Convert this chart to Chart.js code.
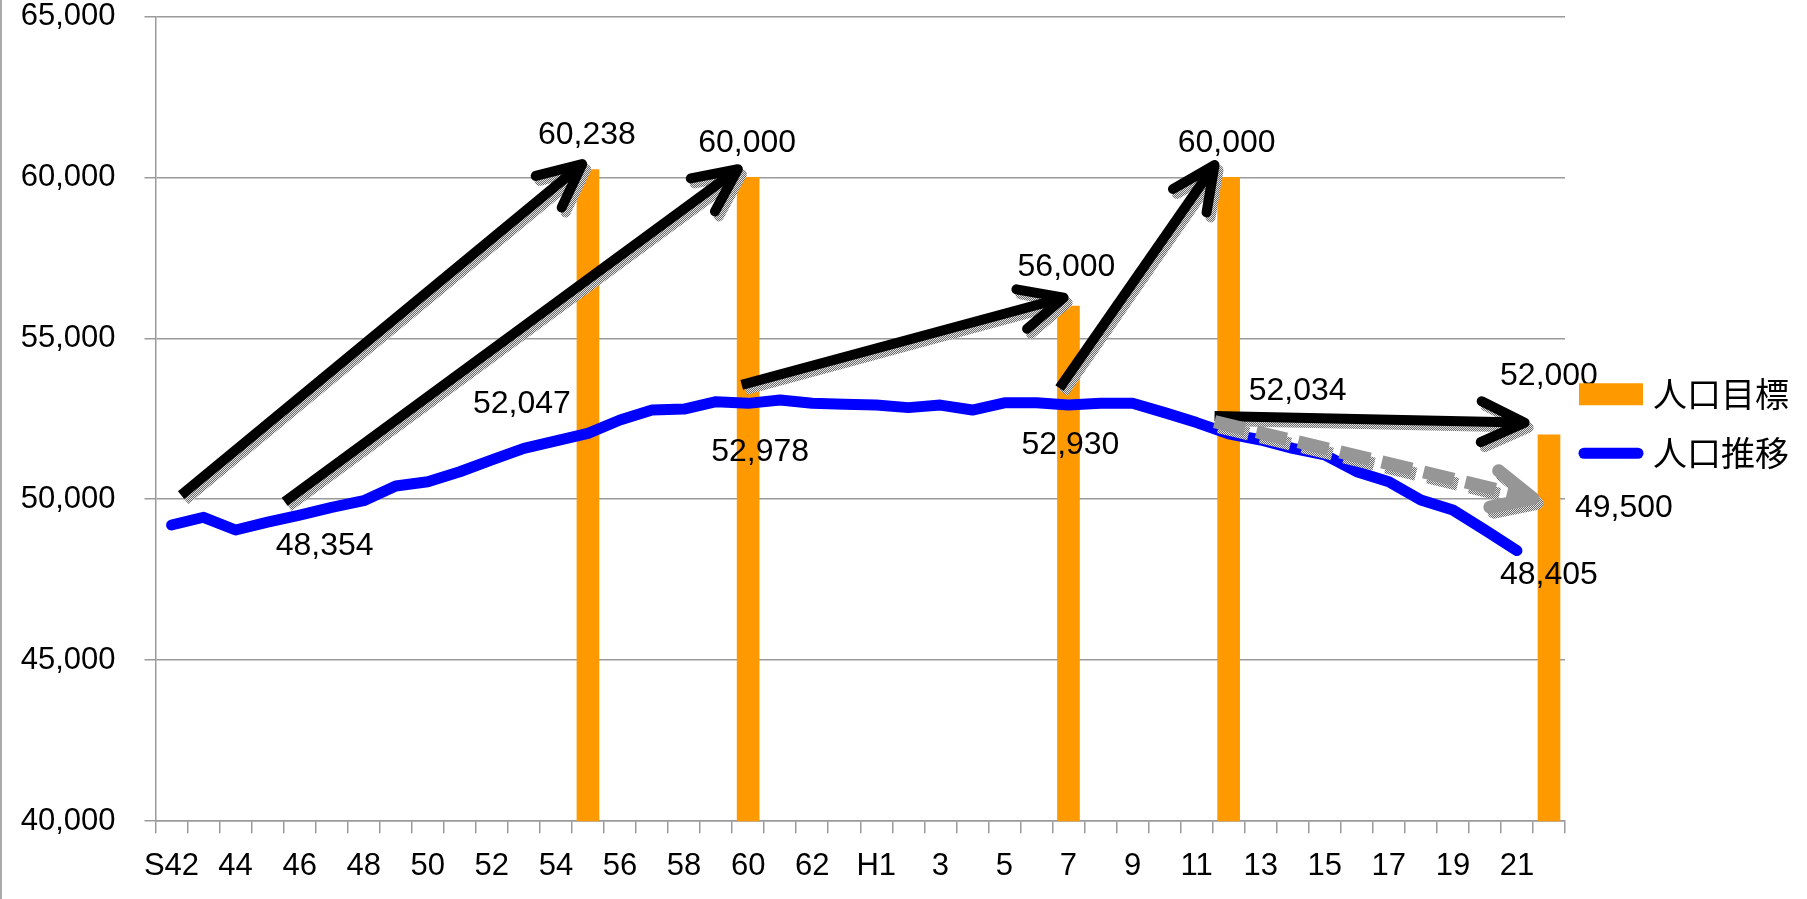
<!DOCTYPE html>
<html lang="ja">
<head>
<meta charset="UTF-8">
<title>人口推移と人口目標</title>
<script src="https://cdn.jsdelivr.net/npm/chart.js"></script>
<style>
  html, body { margin: 0; padding: 0; background: #fff; }
  #wrap { width: 1807px; height: 899px; }
</style>
</head>
<body>
<div id="wrap"><canvas id="popChart" width="1807" height="899"></canvas></div>
<script>
// 年度 (昭和42年〜昭和63年, 平成元年〜平成22年)
const years = [
  'S42','43','44','45','46','47','48','49','50','51','52',
  '53','54','55','56','57','58','59','60','61','62','63',
  'H1','2','3','4','5','6','7','8','9','10','11',
  '12','13','14','15','16','17','18','19','20','21','22'
];

// 人口推移 (H22 は未集計)
const populationActual = [
  49200, 49440, 49045, 49290, 49510, 49750, 49955, 50410, 50545, 50855, 51220,
  51580, 51810, 52047, 52460, 52770, 52800, 53030, 52978, 53080, 52980, 52950,
  52925, 52845, 52925, 52770, 52995, 52995, 52930, 52980, 52980, 52690, 52380,
  52034, 51840, 51580, 51375, 50855, 50545, 49975, 49665, 49045, 48405, null
];

// 人口目標 (各総合計画の目標年次)
const populationTarget = [
  null, null, null, null, null, null, null, null, null, null, null,
  null, null, 60238, null, null, null, null, 60000, null, null, null,
  null, null, null, null, null, null, 56000, null, null, null, null,
  60000, null, null, null, null, null, null, null, null, null, 52000
];

const yTicks = [40000, 45000, 50000, 55000, 60000, 65000];

// 矢印の始点・終点 [年度index, 人口]
const arrowTail = [[0.3, 50130], [3.53, 49920], [17.8, 53550], [27.72, 53450], [32.56, 52585], [32.56, 52410]];
const arrowHead = [[12.82, 60410], [17.68, 60250], [27.85, 56260], [32.56, 60380], [42.24, 52380], [42.5, 50030]];
// 推計値の注記
const noteText = ['48,354', '49,500'];
const noteAt = [[3.53, 49920], [42.5, 50030]];

// 数値ラベルを付ける年度
const targetLabelAt = [13, 18, 28, 33, 43];
const actualLabelAt = [13, 18, 28, 33, 42];

// ラベル位置のずらし量 (px)
const targetLabelShift = [[-1, -34], [-1, -34], [-2, -39], [-2, -34], [0, -59]];
const actualLabelShift = [[-66, -29], [12, 49], [2, 40], [69, -43], [32, 25]];
const noteShift = [[40, 44], [91, 10]];

const fmt = v => v.toLocaleString('en-US');
const numFont = '32px "Liberation Sans", Arial, sans-serif';
const tickFont = { family: '"Liberation Sans", Arial, sans-serif', size: 31, lineHeight: 1.0 };
const legendFont = '34px "Noto Sans CJK JP", sans-serif';

function stipplePattern(ctx) {
  const pc = document.createElement('canvas');
  pc.width = pc.height = 2;
  const p = pc.getContext('2d');
  p.fillStyle = '#e2e2e2';
  p.fillRect(0, 0, 2, 2);
  p.fillStyle = '#6a6a6a';
  p.fillRect(0, 0, 1, 1);
  p.fillRect(1, 1, 1, 1);
  return ctx.createPattern(pc, 'repeat');
}

function arrowPath(ctx, x0, y0, x1, y1, dash, color, width, head) {
  const ang = Math.atan2(y1 - y0, x1 - x0);
  const spread = 0.44;
  ctx.strokeStyle = color;
  ctx.lineWidth = width;
  ctx.setLineDash(dash);
  ctx.lineCap = 'butt';
  ctx.beginPath();
  ctx.moveTo(x0, y0);
  ctx.lineTo(x1 - Math.cos(ang) * 4, y1 - Math.sin(ang) * 4);
  ctx.stroke();
  ctx.setLineDash([]);
  ctx.lineCap = 'round';
  ctx.lineJoin = 'round';
  ctx.beginPath();
  ctx.moveTo(x1 + head * Math.cos(ang + Math.PI - spread), y1 + head * Math.sin(ang + Math.PI - spread));
  ctx.lineTo(x1, y1);
  ctx.lineTo(x1 + head * Math.cos(ang + Math.PI + spread), y1 + head * Math.sin(ang + Math.PI + spread));
  ctx.stroke();
}

const frame = {
  id: 'frame',
  beforeDraw(chart) {
    const ctx = chart.ctx;
    ctx.save();
    ctx.fillStyle = '#fff';
    ctx.fillRect(0, 0, chart.width, chart.height);
    ctx.fillStyle = '#aaa';
    ctx.fillRect(0, 0, 2, chart.height);
    ctx.restore();
  }
};

const notes = {
  id: 'notes',
  afterDatasetsDraw(chart) {
    const { ctx, scales: { x, y } } = chart;
    const shade = stipplePattern(ctx);
    ctx.save();

    arrowTail.forEach((t, k) => {
      const x0 = x.getPixelForValue(t[0]), y0 = y.getPixelForValue(t[1]);
      const x1 = x.getPixelForValue(arrowHead[k][0]), y1 = y.getPixelForValue(arrowHead[k][1]);
      const dashed = k === arrowTail.length - 1;
      const dash = dashed ? [31, 12] : [];
      const w = dashed ? 13 : 10;
      const head = dashed ? 44 : 48;
      ctx.save();
      ctx.translate(4, 5);
      arrowPath(ctx, x0, y0, x1, y1, dash, shade, w, head);
      ctx.restore();
      arrowPath(ctx, x0, y0, x1, y1, dash, dashed ? '#969696' : '#000', w, head);
    });

    ctx.font = numFont;
    ctx.fillStyle = '#000';
    ctx.textAlign = 'center';
    ctx.textBaseline = 'middle';
    targetLabelAt.forEach((i, k) => {
      const v = populationTarget[i];
      ctx.fillText(fmt(v), x.getPixelForValue(i) + targetLabelShift[k][0], y.getPixelForValue(v) + targetLabelShift[k][1]);
    });
    actualLabelAt.forEach((i, k) => {
      const v = populationActual[i];
      ctx.fillText(fmt(v), x.getPixelForValue(i) + actualLabelShift[k][0], y.getPixelForValue(v) + actualLabelShift[k][1]);
    });
    noteText.forEach((s, k) => {
      ctx.fillText(s, x.getPixelForValue(noteAt[k][0]) + noteShift[k][0], y.getPixelForValue(noteAt[k][1]) + noteShift[k][1]);
    });
    ctx.restore();
  }
};

// 凡例 (プロット右側、数値ラベルの上に重ねる)
const legendBox = {
  id: 'legendBox',
  afterDraw(chart) {
    const { ctx, chartArea } = chart;
    const [line, bar] = chart.data.datasets;
    const left = chartArea.right + 14;
    const mid = (chartArea.top + chartArea.bottom) / 2 + 5;
    const y1 = mid - 29.5, y2 = mid + 29.5;
    ctx.save();
    ctx.fillStyle = bar.backgroundColor;
    ctx.fillRect(left, y1 - 11, 64, 22);
    ctx.strokeStyle = line.borderColor;
    ctx.lineWidth = 11;
    ctx.lineCap = 'round';
    ctx.beginPath();
    ctx.moveTo(left + 5, y2);
    ctx.lineTo(left + 59, y2);
    ctx.stroke();
    ctx.font = legendFont;
    ctx.fillStyle = '#000';
    ctx.textBaseline = 'middle';
    ctx.fillText(bar.label, left + 74, y1);
    ctx.fillText(line.label, left + 74, y2);
    ctx.restore();
  }
};

new Chart(document.getElementById('popChart'), {
  type: 'bar',
  data: {
    labels: years,
    datasets: [
      {
        type: 'line',
        label: '人口推移',
        data: populationActual,
        borderColor: '#0000FF',
        borderWidth: 11,
        pointRadius: 0,
        tension: 0,
        borderCapStyle: 'round',
        borderJoinStyle: 'round',
        order: 0
      },
      {
        type: 'bar',
        label: '人口目標',
        data: populationTarget,
        backgroundColor: '#FF9900',
        barThickness: 22,
        order: 1
      }
    ]
  },
  options: {
    responsive: false,
    animation: false,
    devicePixelRatio: 1,
    layout: { padding: { left: 0, right: 242, top: 0, bottom: 0 } },
    scales: {
      x: {
        offset: true,
        grid: { offset: true, drawOnChartArea: false, tickLength: 12, color: '#9a9a9a', lineWidth: 1.5 },
        border: { color: '#9a9a9a', width: 1.5 },
        ticks: {
          autoSkip: false,
          maxRotation: 0,
          padding: 17.4,
          color: '#000',
          font: tickFont,
          callback: (v, i) => (i % 2 === 0 ? years[i] : '')
        }
      },
      y: {
        min: yTicks[0],
        max: yTicks[yTicks.length - 1],
        afterBuildTicks: s => { s.ticks = yTicks.map(v => ({ value: v })); },
        afterFit: s => {
          s.width = 155.5;
          s.paddingTop = 16.3;
          s.paddingBottom = 16.3;
        },
        grid: { color: '#9a9a9a', lineWidth: 1.5, tickLength: 11 },
        border: { color: '#9a9a9a', width: 1.5 },
        ticks: { padding: 29, color: '#000', font: tickFont, callback: v => fmt(v) }
      }
    },
    plugins: {
      tooltip: { enabled: false },
      legend: { display: false }
    }
  },
  plugins: [frame, notes, legendBox]
});
</script>
</body>
</html>
